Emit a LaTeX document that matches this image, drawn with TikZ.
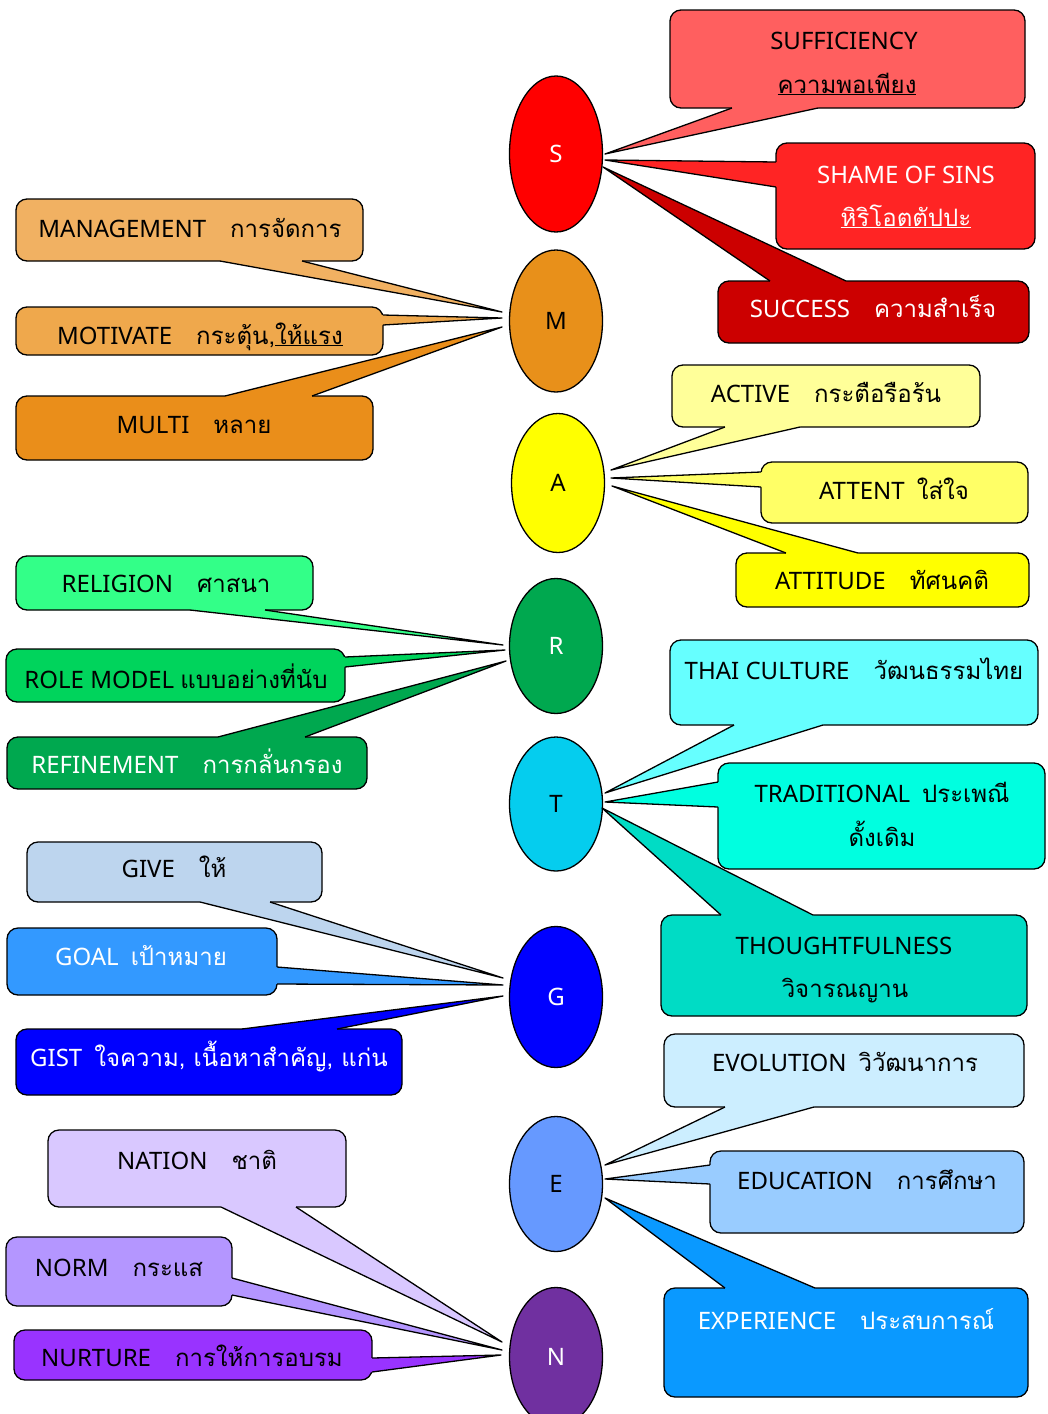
\documentclass[tikz,border=0pt]{standalone}
\usepackage{fontspec}
\setmainfont{Noto Sans}
\newfontfamily\loma[Script=Thai]{Loma}
\usetikzlibrary{shapes.geometric,calc}
\definecolor{cS}{HTML}{FF0000}\definecolor{cSuf}{HTML}{FF5F5F}\definecolor{cSha}{HTML}{FF2424}\definecolor{cSuc}{HTML}{CC0000}
\definecolor{cM}{HTML}{E8901A}\definecolor{cMan}{HTML}{F1B162}\definecolor{cMot}{HTML}{EFA84C}\definecolor{cMul}{HTML}{EA8E1A}
\definecolor{cA}{HTML}{FFFF00}\definecolor{cAct}{HTML}{FFFF99}\definecolor{cAtt}{HTML}{FFFF66}\definecolor{cAtu}{HTML}{FFFF00}
\definecolor{cR}{HTML}{00A84F}\definecolor{cRel}{HTML}{33FF88}\definecolor{cRol}{HTML}{00D45C}\definecolor{cRef}{HTML}{00A84F}
\definecolor{cT}{HTML}{05CDEE}\definecolor{cTha}{HTML}{66FFFF}\definecolor{cTra}{HTML}{00FFE0}\definecolor{cTho}{HTML}{00DCC5}
\definecolor{cG}{HTML}{0000FF}\definecolor{cGiv}{HTML}{BDD5EE}\definecolor{cGoa}{HTML}{3399FF}\definecolor{cGis}{HTML}{0000FF}
\definecolor{cE}{HTML}{6699FF}\definecolor{cEvo}{HTML}{CCEEFF}\definecolor{cEdu}{HTML}{99CCFF}\definecolor{cExp}{HTML}{0A99FF}
\definecolor{cN}{HTML}{7030A0}\definecolor{cNat}{HTML}{D9C8FF}\definecolor{cNor}{HTML}{B496FF}\definecolor{cNur}{HTML}{9933FF}
\newcommand\callwedge[5]{%
  \fill[#1] ($(#2)+#5$) -- (#2) -- (#4) -- (#3) -- ($(#3)+#5$) -- cycle;
  \draw[edge] (#2) -- (#4) -- (#3);}
\tikzset{
  cbox/.style={draw, line width=1.3pt, rounded corners=11pt, inner sep=0pt, outer sep=0pt},
  oval/.style={ellipse, draw, line width=1.3pt, inner sep=0pt, outer sep=0pt, minimum width=93pt, font=\fontsize{24}{28}\selectfont},
  txt/.style={anchor=base, inner sep=0pt, font=\fontsize{24}{28}\selectfont},
  edge/.style={line width=1.3pt, line join=round},
}
\begin{document}
\begin{tikzpicture}[x=1pt,y=-1pt]
\useasboundingbox (0,0) rectangle (1048,1414);
\fill[white] (0,0) rectangle (1048,1414);
% central ellipses
\node[oval, fill=cS, minimum height=156pt, text=white] (S) at (556,154) {S};
\node[oval, fill=cM, minimum height=142pt] (M) at (556,321) {M};
\node[oval, fill=cA, minimum height=139pt] (A) at (558,483) {A};
\node[oval, fill=cR, minimum height=135pt, text=white] (R) at (556,646) {R};
\node[oval, fill=cT, minimum height=134pt] (T) at (556,804) {T};
\node[oval, fill=cG, minimum height=141pt, text=white] (G) at (556,997) {G};
\node[oval, fill=cE, minimum height=135pt] (E) at (556,1184) {E};
\node[oval, fill=cN, minimum height=139pt, text=white] (N) at (556,1357) {N};
% ---------- S ----------
\node[cbox, fill=cSuf, minimum width=355pt, minimum height=98pt] (suf) at (847.5,59) {};
\coordinate (suf1) at ($(suf.south west)+(62,0)$);
\coordinate (suf2) at ($(suf.south west)+(148,0)$);
\coordinate (sufP) at ($(S)+(49,0)$);
\callwedge{cSuf}{suf1}{suf2}{sufP}{(0,-2)}
\node[txt] (sufa) at (844,49) {SUFFICIENCY};
\node[txt] (sufb) at (847,93) {\loma\underline{ความพอเพียง}};
\node[cbox, fill=cSha, minimum width=259pt, minimum height=106pt] (sha) at (905.5,196) {};
\coordinate (sha1) at ($(sha.north west)+(0,19)$);
\coordinate (sha2) at ($(sha.north west)+(0,44)$);
\coordinate (shaP) at ($(S)+(49,6)$);
\callwedge{cSha}{sha1}{sha2}{shaP}{(2,0)}
\node[txt, text=white] (shaa) at (906,183) {SHAME OF SINS};
\node[txt, text=white] (shab) at (906,226) {\loma\underline{หิริโอตตัปปะ}};
\node[cbox, fill=cSuc, minimum width=311pt, minimum height=62pt] (suc) at (873.5,312) {};
\coordinate (suc1) at ($(suc.north west)+(52,0)$);
\coordinate (suc2) at ($(suc.north west)+(128,0)$);
\coordinate (sucP) at ($(S)+(47,13)$);
\callwedge{cSuc}{suc1}{suc2}{sucP}{(0,2)}
\node[txt, text=white] (suca) at (873,317) {SUCCESS\quad{\loma ความสำเร็จ}};
% ---------- M ----------
\node[cbox, fill=cMan, minimum width=347pt, minimum height=62pt] (man) at (189.5,230) {};
\coordinate (man1) at ($(man.south west)+(204,0)$);
\coordinate (man2) at ($(man.south west)+(286,0)$);
\coordinate (manP) at ($(M)+(-54,-9)$);
\callwedge{cMan}{man1}{man2}{manP}{(0,-2)}
\node[txt] (mana) at (190,237) {MANAGEMENT\quad{\loma การจัดการ}};
\node[cbox, fill=cMot, minimum width=367pt, minimum height=48pt] (mot) at (199.5,331) {};
\coordinate (mot1) at ($(mot.north east)+(0,8)$);
\coordinate (mot2) at ($(mot.north east)+(0,18)$);
\coordinate (motP) at ($(M)+(-54,-3)$);
\callwedge{cMot}{mot1}{mot2}{motP}{(-2,0)}
\node[txt] (mota) at (200,344) {MOTIVATE\quad{\loma กระตุ้น,\underline{ให้แรง}}};
\node[cbox, fill=cMul, minimum width=357pt, minimum height=64pt] (mul) at (194.5,428) {};
\coordinate (mul1) at ($(mul.north west)+(209,0)$);
\coordinate (mul2) at ($(mul.north west)+(296,0)$);
\coordinate (mulP) at ($(M)+(-54,6)$);
\callwedge{cMul}{mul1}{mul2}{mulP}{(0,2)}
\node[txt] (mula) at (194,433) {MULTI\quad{\loma หลาย}};
% ---------- A ----------
\node[cbox, fill=cAct, minimum width=308pt, minimum height=62pt] (act) at (826,396) {};
\coordinate (act1) at ($(act.south west)+(53,0)$);
\coordinate (act2) at ($(act.south west)+(128,0)$);
\coordinate (actP) at ($(A)+(53,-13)$);
\callwedge{cAct}{act1}{act2}{actP}{(0,-2)}
\node[txt] (acta) at (826,402) {ACTIVE\quad{\loma กระตือรือร้น}};
\node[cbox, fill=cAtt, minimum width=267pt, minimum height=61pt] (att) at (894.5,492.5) {};
\coordinate (att1) at ($(att.north west)+(0,10)$);
\coordinate (att2) at ($(att.north west)+(0,25)$);
\coordinate (attP) at ($(A)+(53,-5)$);
\callwedge{cAtt}{att1}{att2}{attP}{(2,0)}
\node[txt] (atta) at (894,499) {ATTENT\enspace{\loma ใส่ใจ}};
\node[cbox, fill=cAtu, minimum width=293pt, minimum height=54pt] (atu) at (882.5,580) {};
\coordinate (atu1) at ($(atu.north west)+(50,0)$);
\coordinate (atu2) at ($(atu.north west)+(122,0)$);
\coordinate (atuP) at ($(A)+(54,3)$);
\callwedge{cAtu}{atu1}{atu2}{atuP}{(0,2)}
\node[txt] (atua) at (882,589) {ATTITUDE\quad{\loma ทัศนคติ}};
% ---------- R ----------
\node[cbox, fill=cRel, minimum width=297pt, minimum height=54pt] (rel) at (164.5,583) {};
\coordinate (rel1) at ($(rel.south west)+(174,0)$);
\coordinate (rel2) at ($(rel.south west)+(249,0)$);
\coordinate (relP) at ($(R)+(-53,-1)$);
\callwedge{cRel}{rel1}{rel2}{relP}{(0,-2)}
\node[txt] (rela) at (166,592) {RELIGION\quad{\loma ศาสนา}};
\node[cbox, fill=cRol, minimum width=339pt, minimum height=53pt] (rol) at (175.5,675.5) {};
\coordinate (rol1) at ($(rol.north east)+(0,8)$);
\coordinate (rol2) at ($(rol.north east)+(0,18)$);
\coordinate (rolP) at ($(R)+(-51,4)$);
\callwedge{cRol}{rol1}{rol2}{rolP}{(-2,0)}
\node[txt] (rola) at (176,688) {ROLE MODEL {\loma แบบอย่างที่นับ}};
\node[cbox, fill=cRef, minimum width=360pt, minimum height=52pt] (ref) at (187,763) {};
\coordinate (ref1) at ($(ref.north west)+(211,0)$);
\coordinate (ref2) at ($(ref.north west)+(298,0)$);
\coordinate (refP) at ($(R)+(-50,15)$);
\callwedge{cRef}{ref1}{ref2}{refP}{(0,2)}
\node[txt, text=white] (refa) at (187,773) {REFINEMENT\quad{\loma การกลั่นกรอง}};
% ---------- T ----------
\node[cbox, fill=cTha, minimum width=368pt, minimum height=85pt] (tha) at (854,682.5) {};
\coordinate (tha1) at ($(tha.south west)+(64,0)$);
\coordinate (tha2) at ($(tha.south west)+(153,0)$);
\coordinate (thaP) at ($(T)+(49,-11)$);
\callwedge{cTha}{tha1}{tha2}{thaP}{(0,-2)}
\node[txt] (thaa) at (854,679) {THAI CULTURE\quad{\loma วัฒนธรรมไทย}};
\node[cbox, fill=cTra, minimum width=327pt, minimum height=106pt] (tra) at (881.5,816) {};
\coordinate (tra1) at ($(tra.north west)+(0,19)$);
\coordinate (tra2) at ($(tra.north west)+(0,44)$);
\coordinate (traP) at ($(T)+(49,-2)$);
\callwedge{cTra}{tra1}{tra2}{traP}{(2,0)}
\node[txt] (traa) at (882,802) {TRADITIONAL\enspace{\loma ประเพณี}};
\node[txt] (trab) at (882,846) {\loma ดั้งเดิม};
\node[cbox, fill=cTho, minimum width=366pt, minimum height=101pt] (tho) at (844,965.5) {};
\coordinate (tho1) at ($(tho.north west)+(60,0)$);
\coordinate (tho2) at ($(tho.north west)+(152,0)$);
\coordinate (thoP) at ($(T)+(46,4)$);
\callwedge{cTho}{tho1}{tho2}{thoP}{(0,2)}
\node[txt] (thoa) at (844,954) {THOUGHTFULNESS};
\node[txt] (thob) at (845,997) {\loma วิจารณญาน};
% ---------- G ----------
\node[cbox, fill=cGiv, minimum width=295pt, minimum height=60pt] (giv) at (174.5,872) {};
\coordinate (giv1) at ($(giv.south west)+(173,0)$);
\coordinate (giv2) at ($(giv.south west)+(243,0)$);
\coordinate (givP) at ($(G)+(-53,-19)$);
\callwedge{cGiv}{giv1}{giv2}{givP}{(0,-2)}
\node[txt] (giva) at (174,877) {GIVE\quad{\loma ให้}};
\node[cbox, fill=cGoa, minimum width=270pt, minimum height=67pt] (goa) at (142,961.5) {};
\coordinate (goa1) at ($(goa.north east)+(0,39)$);
\coordinate (goa2) at ($(goa.north east)+(0,56)$);
\coordinate (goaP) at ($(G)+(-53,-12)$);
\callwedge{cGoa}{goa1}{goa2}{goaP}{(-2,0)}
\node[txt, text=white] (goaa) at (141,965) {GOAL\enspace{\loma เป้าหมาย}};
\node[cbox, fill=cGis, minimum width=386pt, minimum height=66pt] (gis) at (209,1062) {};
\coordinate (gis1) at ($(gis.north west)+(226,0)$);
\coordinate (gis2) at ($(gis.north west)+(321,0)$);
\coordinate (gisP) at ($(G)+(-53,-1)$);
\callwedge{cGis}{gis1}{gis2}{gisP}{(0,2)}
\node[txt, text=white] (gisa) at (209,1066) {GIST\enspace{\loma ใจความ, เนื้อหาสำคัญ, แก่น}};
% ---------- E ----------
\node[cbox, fill=cEvo, minimum width=360pt, minimum height=73pt] (evo) at (844,1070.5) {};
\coordinate (evo1) at ($(evo.south west)+(61,0)$);
\coordinate (evo2) at ($(evo.south west)+(150,0)$);
\coordinate (evoP) at ($(E)+(49,-19)$);
\callwedge{cEvo}{evo1}{evo2}{evoP}{(0,-2)}
\node[txt] (evoa) at (845,1071) {EVOLUTION\enspace{\loma วิวัฒนาการ}};
\node[cbox, fill=cEdu, minimum width=314pt, minimum height=82pt] (edu) at (867,1192) {};
\coordinate (edu1) at ($(edu.north west)+(0,14)$);
\coordinate (edu2) at ($(edu.north west)+(0,33)$);
\coordinate (eduP) at ($(E)+(49,-5)$);
\callwedge{cEdu}{edu1}{edu2}{eduP}{(2,0)}
\node[txt] (edua) at (867,1189) {EDUCATION\quad{\loma การศึกษา}};
\node[cbox, fill=cExp, minimum width=364pt, minimum height=109pt] (exp) at (846,1342.5) {};
\coordinate (exp1) at ($(exp.north west)+(61,0)$);
\coordinate (exp2) at ($(exp.north west)+(151,0)$);
\coordinate (expP) at ($(E)+(49,14)$);
\callwedge{cExp}{exp1}{exp2}{expP}{(0,2)}
\node[txt, text=white] (expa) at (846,1329) {EXPERIENCE\quad{\loma ประสบการณ์}};
% ---------- N ----------
\node[cbox, fill=cNat, minimum width=298pt, minimum height=77pt] (nat) at (197,1168.5) {};
\coordinate (nat1) at ($(nat.south west)+(173,0)$);
\coordinate (nat2) at ($(nat.south west)+(248,0)$);
\coordinate (natP) at ($(N)+(-54,-15)$);
\callwedge{cNat}{nat1}{nat2}{natP}{(0,-2)}
\node[txt] (nata) at (197,1169) {NATION\quad{\loma ชาติ}};
\node[cbox, fill=cNor, minimum width=226pt, minimum height=69pt] (nor) at (119,1271.5) {};
\coordinate (nor1) at ($(nor.north east)+(0,41)$);
\coordinate (nor2) at ($(nor.north east)+(0,58)$);
\coordinate (norP) at ($(N)+(-54,-7)$);
\callwedge{cNor}{nor1}{nor2}{norP}{(-2,0)}
\node[txt] (nora) at (119,1276) {NORM\quad{\loma กระแส}};
\node[cbox, fill=cNur, minimum width=358pt, minimum height=50pt] (nur) at (193,1355) {};
\coordinate (nur1) at ($(nur.north east)+(0,28)$);
\coordinate (nur2) at ($(nur.north east)+(0,42)$);
\coordinate (nurP) at ($(N)+(-55,-2)$);
\callwedge{cNur}{nur1}{nur2}{nurP}{(-2,0)}
\node[txt] (nura) at (192,1366) {NURTURE\quad{\loma การให้การอบรม}};
\end{tikzpicture}
\end{document}
